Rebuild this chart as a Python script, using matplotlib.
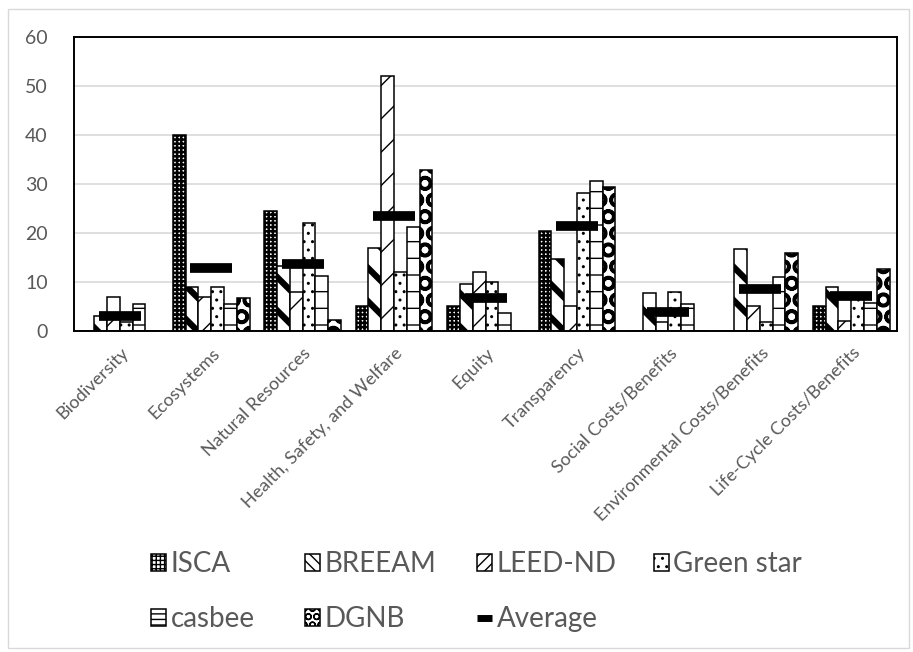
"""Grouped bar chart of indicator weights per rating system, with average markers."""

import matplotlib
import matplotlib.pyplot as plt
import matplotlib.transforms as mtransforms
import numpy as np
from matplotlib.lines import Line2D
from matplotlib.patches import Patch, Rectangle

matplotlib.use('Agg')

plt.rcParams['font.family'] = ['Lato', 'DejaVu Sans']

categories = ["Biodiversity", "Ecosystems", "Natural Resources",
              "Health, Safety, and Welfare", "Equity", "Transparency",
              "Social Costs/Benefits", "Environmental Costs/Benefits",
              "Life-Cycle Costs/Benefits"]

isca = [0, 40, 24.5, 5.1, 5.1, 20.5, 0, 0, 5.1]
breeam = [3.1, 9.0, 13.2, 16.9, 9.5, 14.7, 7.7, 16.7, 9.0]
leed_nd = [7.0, 7.0, 8.0, 52.0, 12.0, 5.0, 1.9, 5.1, 2.1]
green_star = [1.8, 9.0, 22.0, 12.0, 9.9, 28.1, 8.0, 1.9, 7.5]
casbee = [5.5, 5.5, 11.2, 21.3, 3.7, 30.6, 5.5, 11.1, 5.8]
dgnb = [0, 6.8, 2.2, 32.9, 0, 29.4, 0, 16.0, 12.6]
average = [3.0, 12.9, 13.6, 23.4, 6.8, 21.5, 3.9, 8.6, 7.2]

# name, values, bar hatch, legend hatch, hatch line width
series = [
    ("ISCA", isca, '++++', '++++', 1.8),
    ("BREEAM", breeam, '\\', '\\\\\\', 4.5),
    ("LEED-ND", leed_nd, '/', '///', 1.0),
    ("Green star", green_star, '..', '..', 1.0),
    ("casbee", casbee, '-', '---', 1.0),
    ("DGNB", dgnb, 'O', 'OO', 2.5),
]

TEXT = '#595959'
W, H = 913, 652

fig = plt.figure(figsize=(W / 100, H / 100), dpi=100)
ax = fig.add_axes([74 / W, 1 - 331 / H, (897 - 74) / W, (331 - 37) / H])

x = np.arange(len(categories))
width = 0.14
handles = []
for i, (name, vals, hatch, leg_hatch, hlw) in enumerate(series):
    with plt.rc_context({'hatch.linewidth': hlw}):
        bars = ax.bar(x + (i - 2.5) * width, vals, width, color='white',
                      edgecolor='black', linewidth=1.1, hatch=hatch, zorder=2)
        for b in bars:
            if hasattr(b, 'set_hatch_linewidth'):
                b.set_hatch_linewidth(hlw)
        h = Patch(facecolor='white', edgecolor='black', linewidth=1.1,
                  hatch=leg_hatch)
        if hasattr(h, 'set_hatch_linewidth'):
            h.set_hatch_linewidth(min(hlw, 2.0))
    handles.append((h, name))

ax.plot(x, average, linestyle='none', marker='_', markersize=30,
        markeredgewidth=7, color='black', zorder=4)
handles.append((Line2D([], [], color='black', linewidth=5,
                       solid_capstyle='butt'), "Average"))

ax.set_xlim(-0.5, len(categories) - 0.5)
ax.set_ylim(0, 60)
ax.set_yticks(range(0, 61, 10))
ax.grid(axis='y', color='#d9d9d9', linewidth=1.2, zorder=0)
ax.set_axisbelow(True)
for s in ax.spines.values():
    s.set_color('black')
    s.set_linewidth(1.4)
ax.tick_params(axis='both', length=0, colors=TEXT)
ax.tick_params(axis='y', labelsize=14, pad=19)
ax.set_xticks(x)
ax.set_xticklabels(categories, rotation=45, ha='right', va='center',
                   rotation_mode='anchor', fontsize=13, color=TEXT)
ax.tick_params(axis='x', pad=14)
shift = mtransforms.ScaledTranslation(6 / 100, 0, fig.dpi_scale_trans)
for lbl in ax.get_xticklabels():
    lbl.set_transform(lbl.get_transform() + shift)

# legend laid out as a 4 x 2 grid, one legend per column
columns = [[0, 4], [1, 5], [2, 6], [3]]
col_x = [151, 305, 477, 654]
for cx, idx in zip(col_x, columns):
    leg = fig.legend([handles[k][0] for k in idx], [handles[k][1] for k in idx],
                     loc='upper left', bbox_to_anchor=(cx / W, 1 - 551 / H),
                     frameon=False, fontsize=20, labelcolor=TEXT,
                     handlelength=0.55, handleheight=0.55, handletextpad=0.15,
                     labelspacing=1.05, borderpad=0, borderaxespad=0)

fig.add_artist(Rectangle((8 / W, 4 / H), (909 - 8) / W, (643 - 4) / H,
                         transform=fig.transFigure, fill=False,
                         edgecolor='#d9d9d9', linewidth=1))

fig.savefig('out.png', dpi=100)
